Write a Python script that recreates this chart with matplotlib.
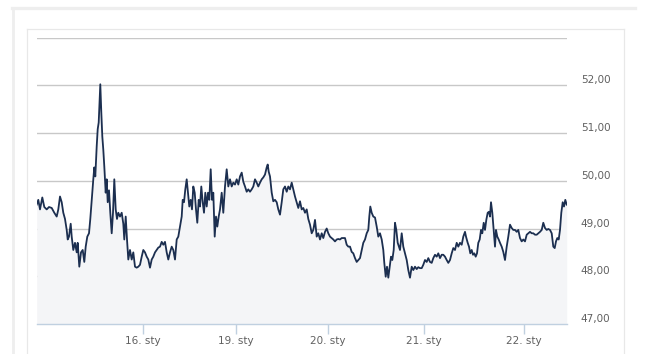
import matplotlib
matplotlib.use("Agg")
import matplotlib.pyplot as plt
from matplotlib.lines import Line2D
import numpy as np

# ordinal time index (trading-session position) and price values
t = [36.7, 38.3, 40, 42.3, 44.3, 46.7, 49, 51.7, 54.3, 56.7, 58.3, 60, 61.7, 63.3, 65, 66.7, 67.7, 69, 70.7, 71.7,
     73.3, 75, 76.7, 77.7, 79.3, 81, 82.7, 84.3, 85.7, 87.3, 89, 90.3, 91.7, 93.3, 94.3, 95.3, 96.7, 97.7, 98.7, 99.7,
     100.3, 101.3, 102.3, 103.3, 104.3, 105.7, 106.7, 107.7, 109, 110.3, 111.7, 113, 114.3, 115.7, 117, 118.3, 120,
     121.7, 123.3, 124.3, 125.7, 127, 128.3, 130,
     131.7, 133.3, 135, 136.7, 138.3, 140, 141.7, 143.3, 145, 146.7, 148.3, 150, 151.7, 153.3, 155, 156.7, 158.3, 160,
     161.7, 163.3, 165, 166.7, 168.3, 170, 171.7, 173.3, 175, 176.7, 178.3, 180, 181.7, 182.7, 184, 185.3, 186.7, 188,
     189.3, 190.7, 192, 193.3, 194.7, 196, 197.3, 198.7, 200, 201.3, 202.7, 204, 205.3, 206.7, 208, 209.3, 210.7, 212,
     213.3, 214.7, 216, 217.3, 218.7, 220,
     221.7, 223.3, 225, 226.7, 228.3, 230, 231.7, 233.3, 235, 236.7, 238.3, 240, 241.7, 243.3, 245, 246.7, 248.3, 250,
     251.7, 253.3, 255, 256.7, 258.3, 260, 261.7, 263.3, 265, 266.7, 267.7, 268.7, 270, 271.7, 273.3, 275, 276.7,
     278.3, 280, 281.7, 283.3, 285, 286.7, 288.3, 290, 291.7, 293.3, 295, 296.7, 298.3, 300, 301.7, 303.3, 305, 306.7,
     308.3, 310,
     311.7, 313.3, 315, 316.7, 318.3, 320, 321.7, 323.3, 325, 326.7, 328.3, 330, 331.7, 333.3, 335, 336.7, 338.3, 340,
     341.7, 343.3, 345, 346.7, 348.3, 350, 351.7, 353.3, 355, 356.7, 358.3, 360, 361.7, 363.3, 365, 366.7, 368.3,
     369.3, 370.3, 371.7, 373.3, 375, 376.7, 378.3, 380, 381.7, 383.3, 384.3, 385.7, 387, 388.3, 389.7, 391, 392.3,
     393.7, 395, 396.3, 397.7, 400,
     401.7, 403.3, 405, 406.7, 408.3, 410, 411.7, 413.3, 415, 416.7, 418.3, 420, 421.7, 423.3, 425, 426.7, 428.3, 430,
     431.7, 433.3, 435, 436.7, 438.3, 440, 441.7, 443.3, 445, 446.7, 448.3, 450, 451.7, 453.3, 455, 456.7, 458.3, 460,
     461.7, 463.3, 465, 466, 467.7, 469, 470.3, 471.7, 473, 474.3, 475.7, 477, 478.3, 479.7, 481, 482.3, 483.7, 485,
     486.3, 487.7, 489, 490,
     491, 492.3, 493.7, 495, 496, 497.3, 498.7, 500, 501.7, 503.3, 505, 506.7, 508.3, 510, 511.7, 513.3, 515, 516.7,
     518.3, 520, 521.7, 523.3, 525, 526.7, 528.3, 530, 531.7, 533.3, 535, 536.7, 538.3, 540, 541.7, 543.3, 545, 546.7,
     548.3, 550, 551.7, 553.3, 554.7, 556, 557.3, 558.7, 560, 561.3, 562.7, 564, 565.3, 566.7]

price = [49.5, 49.6, 49.4, 49.65, 49.45, 49.4, 49.45, 49.43, 49.33, 49.25, 49.4, 49.67, 49.55, 49.33, 49.2, 48.97,
         48.77, 48.83, 49.1, 48.83, 48.55, 48.7, 48.5, 48.7, 48.2, 48.5, 48.55, 48.3, 48.62, 48.83, 48.9, 49.2, 49.6,
         50.03, 50.28, 50.09, 50.72, 51.08, 51.22, 51.7, 52.02, 51.43, 50.93, 50.65, 50.3, 49.75, 50.03, 49.55, 49.8,
         49.33, 48.9, 49.33, 50.03, 49.4, 49.2, 49.33, 49.25, 49.33, 49.1, 48.77, 49.25, 48.77, 48.35, 48.55,
         48.35, 48.5, 48.2, 48.18, 48.2, 48.24, 48.41, 48.55, 48.5, 48.41, 48.35, 48.18, 48.35, 48.41, 48.5, 48.55,
         48.6, 48.62, 48.72, 48.66, 48.72, 48.5, 48.35, 48.5, 48.62, 48.55, 48.35, 48.77, 48.83, 49.04, 49.25, 49.6,
         49.55, 49.82, 50.03, 49.75, 49.46, 49.6, 49.4, 49.88, 49.75, 49.4, 49.12, 49.6, 49.46, 49.88, 49.55, 49.33,
         49.75, 49.46, 49.75, 49.6, 50.24, 49.6, 49.75, 48.83, 49.25, 49.04, 49.25, 49.4,
         49.75, 49.33, 49.88, 50.24, 49.88, 50.03, 49.88, 49.96, 49.92, 50.03, 49.92, 50.09, 50.17, 49.98, 49.88,
         49.77, 49.82, 49.77, 49.82, 49.88, 50.03, 49.96, 49.88, 49.96, 50.03, 50.07, 50.13, 50.28, 50.34, 50.19,
         50.09, 49.75, 49.57, 49.6, 49.55, 49.4, 49.29, 49.55, 49.82, 49.88, 49.77, 49.88, 49.82, 49.96, 49.82, 49.67,
         49.55, 49.43, 49.57, 49.4, 49.43, 49.33, 49.4, 49.2, 49.08,
         48.9, 48.97, 49.18, 48.83, 48.9, 48.77, 48.9, 48.8, 48.93, 49.0, 48.9, 48.83, 48.8, 48.77, 48.73, 48.77,
         48.78, 48.77, 48.8, 48.8, 48.8, 48.66, 48.62, 48.62, 48.51, 48.48, 48.38, 48.3, 48.34, 48.38, 48.55, 48.7,
         48.77, 48.9, 48.97, 49.25, 49.46, 49.33, 49.25, 49.23, 49.04, 48.83, 48.9, 48.77, 48.55, 48.28, 47.99, 48.2,
         47.97, 48.2, 48.41, 48.34, 48.55, 49.12, 48.97, 48.7, 48.55,
         48.9, 48.62, 48.48, 48.34, 48.13, 47.97, 48.2, 48.13, 48.2, 48.15, 48.19, 48.17, 48.17, 48.24, 48.34, 48.3,
         48.38, 48.3, 48.28, 48.38, 48.45, 48.41, 48.48, 48.38, 48.45, 48.45, 48.41, 48.34, 48.28, 48.34, 48.48,
         48.59, 48.55, 48.7, 48.62, 48.7, 48.66, 48.83, 48.93, 48.83, 48.7, 48.62, 48.48, 48.55, 48.45, 48.48, 48.41,
         48.48, 48.7, 48.77, 48.97, 48.9, 49.12, 48.97, 49.18, 49.33, 49.35, 49.25,
         49.55, 49.33, 48.97, 48.62, 48.97, 48.83, 48.77, 48.7, 48.62, 48.51, 48.34, 48.62, 48.83, 49.08, 49.01,
         48.97, 48.97, 48.93, 48.97, 48.8, 48.73, 48.77, 48.73, 48.87, 48.9, 48.93, 48.9, 48.9, 48.87, 48.87, 48.9,
         48.93, 48.97, 49.12, 49.01, 48.97, 48.99, 48.97, 48.9, 48.62, 48.59, 48.73, 48.8, 48.77, 48.97, 49.33, 49.55,
         49.46, 49.6, 49.5]

tick_pos = [143, 236, 328, 424, 524]
tick_labels = ["16. sty", "19. sty", "20. sty", "21. sty", "22. sty"]
y_ticks = [47, 48, 49, 50, 51, 52, 53]
y_labels = ["47,00", "48,00", "49,00", "50,00", "51,00", "52,00", ""]

W, H = 645, 354
fig = plt.figure(figsize=(W / 100, H / 100), dpi=100)
fig.patch.set_facecolor("white")

# outer frame decorations
fig.add_artist(Line2D([11.5 / W, 634.5 / W], [1 - 7.5 / H, 1 - 7.5 / H], color="#eeeeee", lw=2.4))
fig.add_artist(Line2D([13 / W, 13 / W], [0, 1 - 7.5 / H], color="#eeeeee", lw=2.0))
fig.add_artist(Line2D([26.5 / W, 623.5 / W], [1 - 28.5 / H, 1 - 28.5 / H], color="#e8e8e8", lw=0.9))
fig.add_artist(Line2D([26.5 / W, 26.5 / W], [0, 1 - 28.5 / H], color="#e8e8e8", lw=0.9))
fig.add_artist(Line2D([623.5 / W, 623.5 / W], [0, 1 - 28.5 / H], color="#e8e8e8", lw=0.9))

left, right = 37 / W, 567 / W
bottom, top = (H - 324) / H, (H - 37.5) / H
ax = fig.add_axes([left, bottom, right - left, top - bottom])
ax.set_facecolor("none")

ax.set_xlim(37, 567)
ax.set_ylim(47, 53)

for yv in y_ticks[1:]:
    ax.axhline(yv, color="#c8c8c8", lw=1.0, zorder=1)

ax.fill_between(t, price, 47, color="#f4f5f7", zorder=2, lw=0)
ax.plot(t, price, color="#1c2f50", lw=1.3, zorder=3, solid_joinstyle="round")

for s in ["top", "left", "right"]:
    ax.spines[s].set_visible(False)
ax.spines["bottom"].set_color("#c0d0e0")
ax.spines["bottom"].set_linewidth(1.0)

ax.set_xticks(tick_pos)
ax.set_xticklabels(tick_labels)
ax.tick_params(axis="x", direction="out", length=7, width=1, color="#c0d0e0",
               labelsize=7.5, labelcolor="#606060", pad=2)

ax.yaxis.tick_right()
ax.set_yticks(y_ticks)
ax.set_yticklabels(y_labels)
ax.tick_params(axis="y", length=0, labelsize=7.5, labelcolor="#606060", pad=10)
for lbl in ax.get_yticklabels():
    lbl.set_verticalalignment("bottom")

fig.savefig("out.png", dpi=100, facecolor="white")
